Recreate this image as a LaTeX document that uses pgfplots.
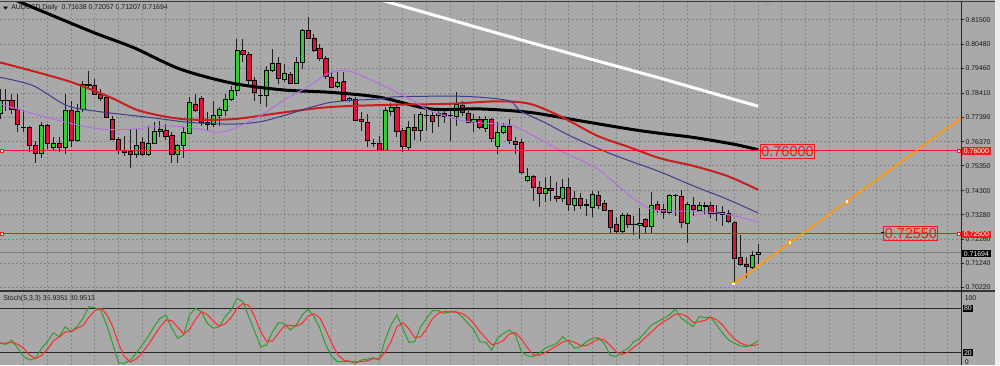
\documentclass[border=0pt]{standalone}
\usepackage{pgfplots}
\usepackage{pgfplotstable}
\pgfplotsset{compat=1.18}
\usepackage{fontspec}
\setmainfont{Liberation Sans}
\definecolor{bg}{HTML}{A9A9A9}
\definecolor{gridc}{HTML}{868686}
\definecolor{upc}{HTML}{32CD32}
\definecolor{dnc}{HTML}{DC143C}
\definecolor{wick}{HTML}{1E1E1E}
\definecolor{maRed}{HTML}{C81E1E}
\definecolor{maBlue}{HTML}{3C3C8C}
\definecolor{maPurple}{HTML}{B470E0}
\definecolor{trend}{HTML}{FF9A10}
\definecolor{stK}{HTML}{2E9E2E}
\definecolor{stD}{HTML}{FF2A2A}
\definecolor{lvl}{HTML}{EE1C1C}
\definecolor{curp}{HTML}{7F7F7F}

\pgfplotstableread{
i o h l c
0 0.7755 0.7860 0.7734 0.7810
1 0.7813 0.7860 0.7767 0.7812
2 0.7813 0.7839 0.7753 0.7775
3 0.7775 0.7839 0.7676 0.7708
4 0.7697 0.7767 0.7676 0.7696
5 0.7697 0.7704 0.7592 0.7620
6 0.7620 0.7641 0.7549 0.7587
7 0.7587 0.7718 0.7570 0.7704
8 0.7704 0.7711 0.7606 0.7629
9 0.7613 0.7655 0.7599 0.7629
10 0.7629 0.7655 0.7592 0.7613
11 0.7613 0.7838 0.7585 0.7770
12 0.7770 0.7810 0.7613 0.7641
13 0.7644 0.7796 0.7634 0.7764
14 0.7775 0.7894 0.7760 0.7877
15 0.7876 0.7936 0.7863 0.7877
16 0.7873 0.7901 0.7835 0.7838
17 0.7838 0.7859 0.7810 0.7821
18 0.7824 0.7831 0.7737 0.7739
19 0.7732 0.7746 0.7644 0.7648
20 0.7648 0.7655 0.7585 0.7599
21 0.7602 0.7662 0.7578 0.7592
22 0.7596 0.7690 0.7528 0.7585
23 0.7585 0.7690 0.7570 0.7620
24 0.7634 0.7655 0.7578 0.7585
25 0.7585 0.7704 0.7578 0.7629
26 0.7629 0.7718 0.7627 0.7679
27 0.7679 0.7725 0.7655 0.7690
28 0.7683 0.7711 0.7644 0.7658
29 0.7662 0.7676 0.7545 0.7585
30 0.7585 0.7627 0.7549 0.7620
31 0.7620 0.7697 0.7570 0.7676
32 0.7673 0.7824 0.7669 0.7802
33 0.7796 0.7838 0.7760 0.7770
34 0.7819 0.7831 0.7704 0.7718
35 0.7718 0.7760 0.7683 0.7708
36 0.7708 0.7810 0.7697 0.7749
37 0.7746 0.7784 0.7704 0.7775
38 0.7770 0.7838 0.7746 0.7817
39 0.7817 0.7873 0.7810 0.7855
40 0.7855 0.8070 0.7831 0.8021
41 0.8021 0.8070 0.7971 0.8004
42 0.8004 0.8013 0.7866 0.7897
43 0.7897 0.7911 0.7810 0.7845
44 0.7831 0.7859 0.7796 0.7830
45 0.7831 0.7957 0.7784 0.7936
46 0.7936 0.8028 0.7929 0.7967
47 0.7967 0.7992 0.7880 0.7905
48 0.7901 0.7964 0.7887 0.7925
49 0.7922 0.7929 0.7880 0.7883
50 0.7883 0.7992 0.7880 0.7971
51 0.7971 0.8112 0.7943 0.8108
52 0.8108 0.8161 0.8070 0.8074
53 0.8074 0.8091 0.8013 0.8021
54 0.8032 0.8049 0.7978 0.7986
55 0.7986 0.7999 0.7901 0.7911
56 0.7908 0.7929 0.7863 0.7866
57 0.7869 0.7929 0.7863 0.7887
58 0.7890 0.7929 0.7807 0.7810
59 0.7810 0.7826 0.7805 0.7819
60 0.7817 0.7826 0.7725 0.7728
61 0.7732 0.7760 0.7683 0.7722
62 0.7718 0.7753 0.7613 0.7644
63 0.7629 0.7648 0.7613 0.7628
64 0.7629 0.7662 0.7596 0.7599
65 0.7599 0.7784 0.7596 0.7770
66 0.7764 0.7802 0.7746 0.7781
67 0.7781 0.7796 0.7658 0.7680
68 0.7683 0.7694 0.7592 0.7617
69 0.7613 0.7725 0.7596 0.7697
70 0.7697 0.7753 0.7644 0.7683
71 0.7683 0.7760 0.7641 0.7750
72 0.7749 0.7775 0.7683 0.7748
73 0.7749 0.7767 0.7672 0.7722
74 0.7746 0.7775 0.7697 0.7758
75 0.7758 0.7775 0.7714 0.7743
76 0.7749 0.7770 0.7638 0.7748
77 0.7743 0.7845 0.7704 0.7793
78 0.7791 0.7810 0.7746 0.7760
79 0.7758 0.7767 0.7714 0.7718
80 0.7718 0.7753 0.7676 0.7732
81 0.7732 0.7746 0.7690 0.7697
82 0.7694 0.7746 0.7676 0.7732
83 0.7732 0.7737 0.7634 0.7652
84 0.7617 0.7718 0.7585 0.7676
85 0.7676 0.7714 0.7669 0.7700
86 0.7700 0.7732 0.7627 0.7641
87 0.7638 0.7655 0.7585 0.7627
88 0.7632 0.7648 0.7500 0.7507
89 0.7472 0.7528 0.7465 0.7490
90 0.7490 0.7497 0.7388 0.7444
91 0.7444 0.7472 0.7363 0.7420
92 0.7420 0.7486 0.7381 0.7441
93 0.7441 0.7493 0.7388 0.7430
94 0.7408 0.7465 0.7381 0.7399
95 0.7399 0.7479 0.7381 0.7444
96 0.7444 0.7483 0.7346 0.7371
97 0.7370 0.7430 0.7343 0.7398
98 0.7398 0.7419 0.7353 0.7367
99 0.7374 0.7395 0.7322 0.7367
100 0.7360 0.7430 0.7320 0.7413
101 0.7409 0.7430 0.7353 0.7370
102 0.7378 0.7391 0.7343 0.7346
103 0.7346 0.7349 0.7254 0.7275
104 0.7287 0.7320 0.7254 0.7261
105 0.7261 0.7338 0.7254 0.7327
106 0.7325 0.7338 0.7275 0.7287
107 0.7290 0.7325 0.7244 0.7289
108 0.7285 0.7357 0.7226 0.7294
109 0.7311 0.7317 0.7254 0.7278
110 0.7278 0.7423 0.7254 0.7370
111 0.7374 0.7385 0.7338 0.7346
112 0.7350 0.7374 0.7311 0.7338
113 0.7338 0.7416 0.7332 0.7412
114 0.7412 0.7416 0.7325 0.7411
115 0.7406 0.7433 0.7275 0.7296
116 0.7292 0.7381 0.7208 0.7374
117 0.7367 0.7402 0.7325 0.7353
118 0.7349 0.7381 0.7343 0.7367
119 0.7367 0.7381 0.7332 0.7366
120 0.7367 0.7381 0.7317 0.7334
121 0.7341 0.7370 0.7303 0.7334
122 0.7341 0.7367 0.7282 0.7332
123 0.7334 0.7349 0.7296 0.7303
124 0.7296 0.7303 0.7036 0.7146
125 0.7149 0.7243 0.7114 0.7121
126 0.7118 0.7149 0.7064 0.7111
127 0.7107 0.7177 0.7100 0.7156
128 0.71638 0.72057 0.71207 0.71694
}\candles

\pgfplotstableread{
i k d
0 32.7 33.0
1 31.4 33.0
2 37.2 33.8
3 26.0 31.5
4 14.7 26.0
5 10.2 17.0
6 12.4 12.4
7 26.0 16.2
8 35.0 24.5
9 47.1 36.0
10 41.7 41.3
11 55.2 48.0
12 48.5 48.5
13 55.2 53.0
14 66.5 56.7
15 82.3 68.0
16 80.9 76.6
17 77.7 80.3
18 57.5 72.0
19 32.7 56.0
20 6.6 32.3
21 5.7 15.0
22 10.2 7.5
23 19.2 11.7
24 30.5 20.0
25 41.7 30.5
26 55.2 42.5
27 66.5 54.5
28 71.0 64.2
29 53.0 63.5
30 39.5 54.5
31 44.0 45.5
32 71.0 51.5
33 80.0 65.0
34 75.5 75.5
35 59.7 71.7
36 53.0 62.7
37 55.2 56.0
38 68.7 59.0
39 77.7 67.2
40 93.5 80.0
41 89.0 86.7
42 68.7 83.7
43 48.5 68.7
44 28.2 48.5
45 30.5 35.7
46 48.5 35.7
47 60.6 46.5
48 59.7 56.3
49 50.7 57.0
50 57.5 56.0
51 71.0 59.7
52 79.1 69.2
53 68.7 72.9
54 53.0 66.9
55 30.5 50.7
56 14.7 32.7
57 7.9 17.7
58 7.9 10.2
59 8.8 8.2
60 5.7 7.5
61 10.2 8.2
62 11.5 9.1
63 13.3 11.7
64 10.2 11.7
65 37.2 20.2
66 57.5 35.0
67 71.0 55.2
68 53.0 60.5
69 34.1 52.7
70 35.0 40.7
71 55.2 41.4
72 66.5 52.2
73 76.8 66.2
74 76.8 73.4
75 73.2 75.6
76 75.5 75.2
77 75.5 74.7
78 68.7 73.2
79 59.7 68.0
80 50.7 59.7
81 35.0 48.5
82 34.1 39.9
83 23.7 30.9
84 40.0 32.6
85 46.2 36.6
86 50.7 45.6
87 44.0 47.0
88 21.4 38.7
89 16.0 27.1
90 14.7 17.4
91 19.2 16.6
92 26.0 20.0
93 29.5 24.9
94 32.7 29.4
95 41.7 34.6
96 35.0 36.5
97 26.0 34.2
98 28.2 29.7
99 35.0 29.7
100 39.5 34.2
101 40.4 38.3
102 32.7 37.5
103 17.0 30.0
104 14.7 21.5
105 21.4 17.7
106 26.0 20.7
107 35.0 27.5
108 39.5 33.5
109 48.5 41.0
110 57.5 48.5
111 62.0 56.0
112 66.5 62.0
113 71.0 66.5
114 79.1 72.2
115 66.5 72.2
116 61.1 68.9
117 55.2 60.9
118 68.7 61.7
119 67.8 63.9
120 67.8 68.1
121 57.5 64.4
122 46.2 57.2
123 37.2 47.0
124 32.7 38.7
125 29.5 33.1
126 28.2 30.1
127 31.4 29.7
128 35.9351 30.9513
}\stoch

\begin{document}
\begin{tikzpicture}
\useasboundingbox (0pt,0pt) rectangle (750pt,-273.75pt);
\begin{scope}[x=0.75pt,y=-0.75pt]
\fill[bg] (0,0) rectangle (1000,365);
\fill[white!85!gray] (995,0) rectangle (1000,365);
\fill[black] (3,6.5) -- (8,6.5) -- (5.5,9.5) -- cycle;
\node[anchor=west, inner sep=0pt, font=\fontsize{5.2}{6}\selectfont, text=black!90] at (11,8) {AUDUSD,Daily\ \ 0.71638 0.72057 0.71207 0.71694};
\node[anchor=west, inner sep=0pt, font=\fontsize{5.2}{6}\selectfont, text=black!90] at (3,299) {Stoch(5,3,3) 35.9351 30.9513};
\end{scope}

\begin{axis}[
  at={(0pt,-1.5pt)}, anchor=north west,
  scale only axis, width=721.1pt, height=216.4pt,
  xmin=0, xmax=162.3, ymin=0.70095, ymax=0.82256,
  axis line style={draw=none},
  xtick={4,8,...,160}, xticklabels={}, xtick style={draw=none},
  ytick={0.815,0.8048,0.7946,0.7841,0.7739,0.7637,0.7535,0.743,0.7328,0.7226,0.7124,0.7022},
  yticklabels={0.81500,0.80480,0.79460,0.78410,0.77390,0.76370,0.75350,0.74300,0.73280,0.72260,0.71240,0.70220},
  yticklabel pos=right,
  ytick style={draw=black!85, line width=0.75pt},
  tick align=outside, major tick length=2.25pt,
  yticklabel style={font=\fontsize{5.2}{6}\selectfont, text=black!90, anchor=west, inner sep=0pt, xshift=0.6pt},
  grid=major, major grid style={gridc, dash pattern=on 1.5pt off 1.5pt, line width=0.75pt},
  clip=true,
]
\addplot[curp, line width=0.75pt] coordinates {(0,0.71694) (162.3,0.71694)};
\pgfplotstablegetrowsof{\candles}
\pgfmathtruncatemacro\lastrow{\pgfplotsretval-1}
\pgfplotsforeachungrouped \rr in {0,...,\lastrow}{%
  \pgfplotstablegetelem{\rr}{i}\of\candles\edef\ci{\pgfplotsretval}%
  \pgfplotstablegetelem{\rr}{o}\of\candles\edef\co{\pgfplotsretval}%
  \pgfplotstablegetelem{\rr}{h}\of\candles\edef\ch{\pgfplotsretval}%
  \pgfplotstablegetelem{\rr}{l}\of\candles\edef\cl{\pgfplotsretval}%
  \pgfplotstablegetelem{\rr}{c}\of\candles\edef\cc{\pgfplotsretval}%
  \pgfmathsetmacro\xa{\ci-0.35}%
  \pgfmathsetmacro\xb{\ci+0.35}%
  \pgfmathtruncatemacro\isup{\cc>=\co ? 1 : 0}%
  \ifnum\isup=1 \def\bc{upc}\else\def\bc{dnc}\fi
  \edef\candlecmd{\noexpand\addplot[draw=wick, line width=0.75pt] coordinates {(\ci,\cl) (\ci,\ch)};
    \noexpand\addplot[draw=black, line width=0.55pt, fill=\bc] coordinates {(\xa,\co) (\xb,\co) (\xb,\cc) (\xa,\cc) (\xa,\co)};}%
  \candlecmd
}
% moving averages
\addplot[white, line width=2.25pt] coordinates {(64,0.8236) (66.7,0.8217) (89.5,0.8055) (100,0.7983) (111.4,0.7905) (128,0.7786)};
\addplot[black, line width=2.25pt, smooth] coordinates {(2.5,0.8234) (3.9,0.8220) (15.7,0.8098) (22.5,0.8034) (30.4,0.7943) (39.3,0.7883) (47.8,0.7855) (55.7,0.7845) (64.1,0.7824) (72.6,0.7775) (81.0,0.7775) (89.5,0.7760) (97.9,0.7725) (106.3,0.7690) (111.4,0.7672) (117.0,0.7655) (123.7,0.7627) (128,0.7603)};
\addplot[maRed, line width=1.5pt, smooth] coordinates {(0,0.7971) (11.3,0.7894) (18.6,0.7824) (23.6,0.7767) (30.9,0.7732) (39.3,0.7732) (47.8,0.7760) (55.7,0.7783) (67.0,0.7793) (75.5,0.7796) (83.9,0.7807) (89.5,0.7796) (95.0,0.7739) (100.8,0.7662) (106.3,0.7613) (111.4,0.7567) (117.0,0.7535) (122.7,0.7493) (128,0.7434)};
\addplot[maBlue, line width=0.75pt, smooth] coordinates {(0,0.7908) (5.6,0.7873) (11.3,0.7789) (16.9,0.7763) (25.3,0.7739) (32.1,0.7718) (39.3,0.7711) (43.9,0.7721) (47.8,0.7746) (55.7,0.7802) (64.1,0.7817) (67.0,0.7826) (78.2,0.7828) (85.8,0.7810) (87.8,0.7767) (92.0,0.7717) (96.2,0.7662) (101.8,0.7599) (106.3,0.7556) (111.4,0.7510) (117.0,0.7451) (122.7,0.7395) (128,0.7336)};
\addplot[maPurple, line width=0.75pt, smooth] coordinates {(0,0.7797) (5.6,0.7755) (11.3,0.7718) (16.9,0.7690) (22.5,0.7690) (28.2,0.7704) (33.8,0.7690) (36.6,0.7676) (39.3,0.7690) (43.9,0.7746) (47.8,0.7810) (51.8,0.7866) (55.7,0.7928) (59.1,0.7933) (64.1,0.7880) (69.7,0.7810) (72.6,0.7767) (78.2,0.7725) (83.9,0.7711) (86.6,0.7704) (89.5,0.7669) (95.0,0.7594) (100.8,0.7523) (106.3,0.7409) (109.4,0.7358) (111.4,0.7346) (117.8,0.7343) (122.4,0.7332) (128,0.7299)};
% levels
\addplot[lvl, line width=0.75pt] coordinates {(0,0.76) (162.3,0.76)};
\addplot[lvl, line width=0.75pt] coordinates {(0,0.725) (162.3,0.725)};
\addplot[only marks, mark=square*, mark size=1.1pt, mark options={fill=white, draw=lvl, line width=0.5pt}] coordinates {(0.35,0.76) (161.9,0.76) (0.35,0.725) (161.9,0.725)};
% trend line
\addplot[trend, line width=1.3pt] coordinates {(123.8,0.7037) (162.3,0.7738)};
\addplot[only marks, mark=square*, mark size=1.2pt, mark options={fill=white, draw=trend, line width=0.6pt}] coordinates {(123.8,0.7037) (133.4,0.7212) (142.9,0.7385)};
\end{axis}

\begin{axis}[
  at={(0pt,-219.375pt)}, anchor=north west,
  scale only axis, width=721.1pt, height=54.4pt,
  xmin=0, xmax=162.3, ymin=3.4, ymax=101.4,
  axis line style={draw=none},
  xtick={4,8,...,160}, xticklabels={}, ytick=\empty,
  tick style={draw=none},
  xmajorgrids, major grid style={gridc, dash pattern=on 1.5pt off 1.5pt, line width=0.75pt},
  clip=true,
]
\addplot[black!85, line width=0.75pt] coordinates {(0,80) (162.3,80)};
\addplot[black!85, line width=0.75pt] coordinates {(0,20) (162.3,20)};
\addplot[stK, line width=0.75pt] table[x=i, y=k] {\stoch};
\addplot[stD, line width=0.75pt] table[x=i, y=d] {\stoch};
\end{axis}

\begin{scope}[x=0.75pt,y=-0.75pt]
\draw[black!75, line width=0.75pt] (0,1.2) -- (995,1.2);
\draw[black!80, line width=1.5pt] (0,291.3) -- (995,291.3);
\draw[black!85, line width=0.75pt] (961.5,1.2) -- (961.5,365);
\fill[gray!75] (763,2) -- (770.5,2) -- (766.75,6.5) -- cycle;
\def\lab{\fontsize{5.2}{6}\selectfont}
\node[fill=lvl, text=white, font=\lab, inner xsep=1.2pt, inner ysep=0.8pt, anchor=west] at (962,151) {0.76000};
\node[fill=lvl, text=white, font=\lab, inner xsep=1.2pt, inner ysep=0.8pt, anchor=west] at (962,234.3) {0.72500};
\node[fill=black, text=white, font=\lab, inner xsep=1.2pt, inner ysep=0.8pt, anchor=west] at (962,253.7) {0.71694};
\node[draw=lvl, line width=0.75pt, text=lvl, font=\fontsize{10.8}{12}\selectfont, inner xsep=0.8pt, inner ysep=1.2pt] at (787.5,151.3) {0.76000};
\node[draw=lvl, line width=0.75pt, text=lvl, font=\fontsize{10.8}{12}\selectfont, inner xsep=0.8pt, inner ysep=1.2pt] at (910.8,233.3) {0.72550};
\draw[black!70!red, line width=0.75pt] (880.5,232.7) -- (884,232.7);
\node[text=black!90, font=\lab, inner sep=0pt, anchor=west] at (964.5,298.3) {100};
\node[fill=black, text=white, font=\lab, inner xsep=1pt, inner ysep=0.6pt, anchor=west] at (962.5,308.3) {80};
\node[fill=black, text=white, font=\lab, inner xsep=1pt, inner ysep=0.6pt, anchor=west] at (962.5,352.7) {20};
\node[text=black!90, font=\lab, inner sep=0pt, anchor=west] at (964.5,362.3) {0};
\end{scope}
\end{tikzpicture}
\end{document}
